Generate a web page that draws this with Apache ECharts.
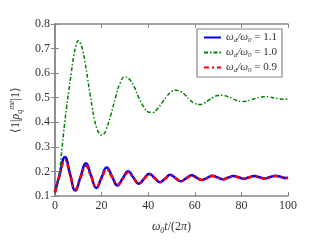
<!DOCTYPE html>
<html><head><meta charset="utf-8">
<script src="https://cdn.jsdelivr.net/npm/echarts@6/dist/echarts.min.js"></script>
<style>html,body{margin:0;padding:0;background:#fff}#c{width:320px;height:240px}</style>
</head><body><div id="c"></div>
<script>
var xTicks = [0, 20, 40, 60, 80, 100];
var yTicks = [0.1, 0.2, 0.3, 0.4, 0.5, 0.6, 0.7, 0.8];
var seriesNames = ['1.1', '1.0', '0.9'];

var tGreen = [0,1,2,3,4,5,6,7,8,9,10,11,12,13,14,15,16,17,18,19,20,21,22,24,26,28,30,32,34,36,38,40,42,44,46,48,50,52,54,56,58,60,62,64,66,68,70,72,74,76,78,80,82,84,86,88,90,92,94,96,98,100];
var vGreen = [0.11,0.14,0.2,0.29,0.38,0.46,0.53,0.6,0.665,0.71,0.732,0.72,0.69,0.64,0.58,0.52,0.46,0.41,0.375,0.355,0.348,0.352,0.37,0.43,0.5,0.56,0.585,0.575,0.545,0.5,0.465,0.442,0.44,0.455,0.48,0.505,0.525,0.53,0.525,0.51,0.49,0.477,0.472,0.478,0.49,0.502,0.509,0.51,0.505,0.497,0.489,0.485,0.486,0.491,0.497,0.502,0.504,0.503,0.499,0.496,0.494,0.495];

var tOsc = [0,2.1,4.3,6.5,8.75,11,13.3,15.5,17.8,20,22.2,24.5,26.8,29.1,31.4,33.7,36,38.2,40.5,42.8,45,47.2,49.5,51.8,54,56.3,58.6,60.8,63,65.3,67.6,69.8,72,74.3,76.6,78.8,81,83.3,85.6,87.8,90,92.3,94.6,96.8,99,100];
var vBlue = [0.115,0.19,0.259,0.19,0.122,0.178,0.233,0.183,0.133,0.175,0.216,0.18,0.143,0.172,0.201,0.175,0.15,0.17,0.191,0.173,0.156,0.17,0.186,0.173,0.16,0.172,0.184,0.175,0.165,0.174,0.182,0.176,0.168,0.175,0.181,0.176,0.17,0.176,0.181,0.176,0.171,0.177,0.182,0.178,0.173,0.174];
var vRed = [0.115,0.185,0.246,0.188,0.127,0.174,0.222,0.18,0.137,0.172,0.208,0.177,0.146,0.17,0.196,0.173,0.152,0.169,0.188,0.172,0.157,0.169,0.184,0.172,0.161,0.171,0.182,0.174,0.166,0.173,0.181,0.175,0.168,0.174,0.18,0.175,0.17,0.175,0.18,0.175,0.171,0.176,0.181,0.177,0.173,0.174];

function zip(t, v) { return t.map(function (x, i) { return [x, v[i]]; }); }

var FONT = 'Liberation Serif';
var AX = '#888888';
var TXT = '#333333';
var rich = {
  i: {fontFamily: FONT, fontStyle: 'italic', fontSize: 11, color: TXT, lineHeight: 13, verticalAlign: 'middle'},
  s: {fontFamily: FONT, fontStyle: 'italic', fontSize: 7, color: TXT, lineHeight: 13, verticalAlign: 'bottom'},
  n: {fontFamily: FONT, fontSize: 11, color: TXT, lineHeight: 13, verticalAlign: 'middle'}
};
var richY = {
  i: {fontFamily: FONT, fontStyle: 'italic', fontSize: 12, color: TXT, lineHeight: 16, verticalAlign: 'middle'},
  s: {fontFamily: FONT, fontStyle: 'italic', fontSize: 8, color: TXT, lineHeight: 16, verticalAlign: 'bottom'},
  p: {fontFamily: FONT, fontStyle: 'italic', fontSize: 8, color: TXT, lineHeight: 16, verticalAlign: 'top'},
  n: {fontFamily: FONT, fontSize: 12, color: TXT, lineHeight: 16, verticalAlign: 'middle'}
};

function axisCommon(show) {
  return {
    axisLine: {show: true, lineStyle: {color: AX, width: 1.5}},
    axisTick: {show: true, inside: true, length: 4, lineStyle: {color: AX}},
    splitLine: {show: false},
    axisLabel: show ? {fontFamily: FONT, fontSize: 12, color: TXT} : {show: false}
  };
}

var chart = echarts.init(document.getElementById('c'), null, {renderer: 'canvas'});
var xa = Object.assign({type: 'value', min: 0, max: 100, interval: 20, position: 'bottom',
  name: '{i|ω}{s|0}{i|t}{n|/(2}{i|π}{n|)}', nameLocation: 'middle', nameGap: 23,
  nameTextStyle: {rich: richY}}, axisCommon(true));
xa.axisLabel.margin = 4;
var xa2 = Object.assign({type: 'value', min: 0, max: 100, interval: 20, position: 'top'}, axisCommon(false));
var ya = Object.assign({type: 'value', min: 0.1, max: 0.8, interval: 0.1, position: 'left',
  name: '{n|⟨1|}{i|ρ}{s|q}{p|me}{n||1⟩}', nameLocation: 'middle', nameGap: 30,
  nameTextStyle: {rich: richY}}, axisCommon(true));
ya.axisLabel.formatter = function (v) { return v.toFixed(1); };
ya.axisLabel.margin = 5;
var ya2 = Object.assign({type: 'value', min: 0.1, max: 0.8, interval: 0.1, position: 'right'}, axisCommon(false));

chart.setOption({
  animation: false,
  backgroundColor: '#ffffff',
  grid: {left: 48, right: 32, top: 24, bottom: 37},
  xAxis: [xa, xa2],
  yAxis: [ya, ya2],
  legend: {
    orient: 'vertical', right: 38, top: 29, padding: [3, 5, 3, 6],
    backgroundColor: '#fff', borderColor: AX, borderWidth: 1.2, borderRadius: 0,
    itemWidth: 17, itemHeight: 10, itemGap: 3,
    itemStyle: {opacity: 0},
    data: seriesNames.map(function (n) { return {name: n}; }),
    formatter: function (n) { return '{i|ω}{s|d}{i|/ω}{s|0}{n| = ' + n + '}'; },
    textStyle: {rich: rich}
  },
  series: [
    {name: seriesNames[0], type: 'line', data: zip(tOsc, vBlue), smooth: true, symbol: 'none',
     lineStyle: {color: '#0000ff', width: 2.5}, itemStyle: {color: '#0000ff'}, z: 2},
    {name: seriesNames[1], type: 'line', data: zip(tGreen, vGreen), smooth: true, symbol: 'none',
     lineStyle: {color: '#008000', width: 1.5, type: [4, 2, 1.5, 2]}, itemStyle: {color: '#008000'}, z: 3},
    {name: seriesNames[2], type: 'line', data: zip(tOsc, vRed), smooth: true, symbol: 'none',
     lineStyle: {color: '#ff0000', width: 2.5, type: [5, 3, 2, 3]}, itemStyle: {color: '#ff0000'}, z: 4}
  ]
});
</script></body></html>
